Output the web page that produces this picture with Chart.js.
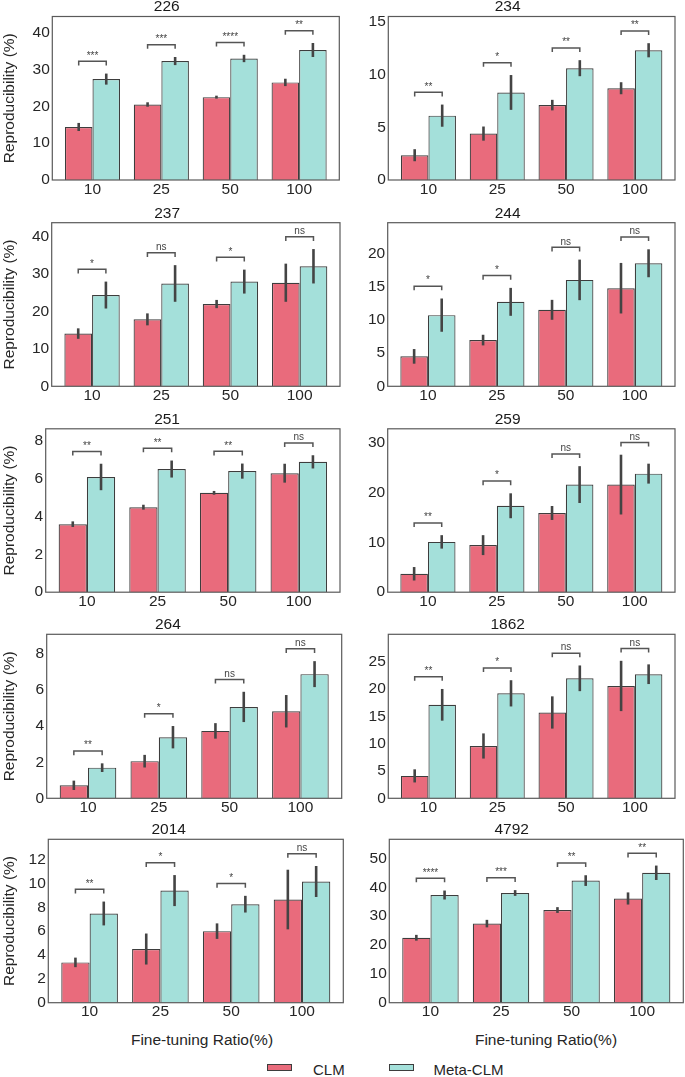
<!DOCTYPE html>
<html><head><meta charset="utf-8">
<script src="https://cdn.jsdelivr.net/npm/chart.js@4/dist/chart.umd.min.js"></script>
<style>
html,body{margin:0;padding:0;background:#fff;}
#wrap{position:relative;width:685px;height:1077px;overflow:hidden;font-family:"Liberation Sans",Arial,sans-serif;color:#262626;background:#fff}
canvas{position:absolute}
.xl{position:absolute;font-size:15.5px;white-space:nowrap;transform:translate(-50%,-50%);line-height:1}
.sw{position:absolute;width:25px;height:7px;box-sizing:border-box;border:1.2px solid #3d3d3d}
.lt{position:absolute;font-size:15px;line-height:1;transform:translateY(-50%);white-space:nowrap}
</style></head>
<body><div id="wrap"></div>
<script>
// ---------- data ----------
const panelTitles = ['226','234','237','244','251','259','264','1862','2014','4792'];
const categories = ['10','25','50','100'];
const seriesNames = ['CLM','Meta-CLM'];
const xAxisLabel = 'Fine-tuning Ratio(%)';
const yAxisLabel = 'Reproducibility (%)';

const clmValues = [
  [14.4,20.5,22.5,26.5],
  [2.35,4.4,7.1,8.7],
  [14.1,17.9,22.0,27.7],
  [4.5,6.95,11.5,14.75],
  [3.6,4.5,5.26,6.3],
  [3.7,9.45,15.9,21.6],
  [0.72,2.06,3.74,4.83],
  [4.1,9.57,15.7,20.55],
  [3.38,4.5,6.0,8.65],
  [22.5,27.4,32.1,36.1]
];
const clmErrors = [
  [1.1,0.6,0.4,1.0],
  [0.57,0.67,0.5,0.57],
  [1.4,1.6,1.1,5.1],
  [1.1,0.8,1.5,3.8],
  [0.15,0.13,0.1,0.5],
  [1.35,2.0,1.4,6.0],
  [0.26,0.35,0.43,0.9],
  [1.2,2.3,2.95,4.6],
  [0.4,1.3,0.65,2.5],
  [1.0,1.3,1.0,2.1]
];
const metaValues = [
  [27.4,32.3,33.0,35.3],
  [6.1,8.3,10.6,12.3],
  [24.4,27.5,28.0,32.1],
  [10.7,12.7,16.0,18.5],
  [6.1,6.52,6.41,6.9],
  [10.1,17.35,21.6,23.8],
  [1.7,3.39,5.07,6.89],
  [17.1,19.2,21.95,22.7],
  [7.48,9.4,8.26,10.16],
  [37.3,38.0,42.3,45.0]
];
const metaErrors = [
  [1.5,1.1,1.0,1.9],
  [1.05,1.65,0.76,0.67],
  [3.6,4.9,3.2,4.6],
  [2.5,2.1,3.05,2.1],
  [0.7,0.45,0.4,0.35],
  [1.35,2.5,3.7,2.0],
  [0.24,0.62,0.84,0.72],
  [2.9,2.4,2.35,1.8],
  [1.0,1.3,0.7,1.3],
  [1.55,1.0,1.85,2.5]
];
const sigLabels = [
  ['***','***','****','**'],
  ['**','*','**','**'],
  ['*','ns','*','ns'],
  ['*','*','ns','ns'],
  ['**','**','**','ns'],
  ['**','*','ns','ns'],
  ['**','*','ns','ns'],
  ['**','*','ns','ns'],
  ['**','*','*','ns'],
  ['****','***','**','**']
];
const yMaxes = [44.4,15.5,43.75,24.6,8.65,32.8,9.1,30.0,13.7,56.6];
const yTicks = [
  [0,10,20,30,40],
  [0,5,10,15],
  [0,10,20,30,40],
  [0,5,10,15,20],
  [0,2,4,6,8],
  [0,10,20,30],
  [0,2,4,6,8],
  [0,5,10,15,20,25],
  [0,2,4,6,8,10,12],
  [0,10,20,30,40,50]
];

// ---------- layout / style ----------
const frames = [ // axes frame [left, top, right, bottom] in page px
  [52.3,16.5,339.3,180],[388.3,16.5,675,180],
  [51.7,222.7,340,386.3],[387.7,222.7,675,386.3],
  [45.7,428.8,340,592.2],[387.7,428.8,675,592.2],
  [46.7,634.3,341.7,798.3],[388.3,634.3,675,798.3],
  [48.3,839.3,343.3,1002.7],[389.3,839.3,683.3,1002.7]
];
const FONT = '"Liberation Sans", Arial, sans-serif';
const CLM_COLOR = 'rgb(233,107,124)';
const META_COLOR = 'rgb(164,224,218)';
const EDGE = '#3d3d3d';
Chart.defaults.font.family = FONT;
Chart.defaults.color = '#262626';

const wrap = document.getElementById('wrap');

const decoPlugin = {
  id: 'deco',
  afterDatasetsDraw(chart, args, opts) {
    const {ctx, chartArea} = chart;
    const p = opts.panel, m = opts.margin;
    const ys = chart.scales.y;
    const yMax = yMaxes[p];
    ctx.save();
    // error bars
    const errs = [clmErrors[p], metaErrors[p]];
    chart.data.datasets.forEach((ds, di) => {
      const meta = chart.getDatasetMeta(di);
      meta.data.forEach((bar, i) => {
        const v = ds.data[i], e = errs[di][i];
        ctx.beginPath();
        ctx.strokeStyle = '#444';
        ctx.lineWidth = 2.6;
        ctx.moveTo(bar.x, ys.getPixelForValue(v - e));
        ctx.lineTo(bar.x, ys.getPixelForValue(v + e));
        ctx.stroke();
      });
    });
    // significance brackets
    const m0 = chart.getDatasetMeta(0), m1 = chart.getDatasetMeta(1);
    categories.forEach((c, i) => {
      const top = Math.max(clmValues[p][i] + clmErrors[p][i], metaValues[p][i] + metaErrors[p][i]);
      const h = top + 0.075 * yMax;
      const hy = ys.getPixelForValue(h);
      const ty = ys.getPixelForValue(h - 0.025 * yMax);
      const x0 = m0.data[i].x, x1 = m1.data[i].x;
      ctx.beginPath();
      ctx.strokeStyle = '#555';
      ctx.lineWidth = 1.5;
      ctx.moveTo(x0, ty); ctx.lineTo(x0, hy); ctx.lineTo(x1, hy); ctx.lineTo(x1, ty);
      ctx.stroke();
      ctx.fillStyle = '#444';
      ctx.font = '10px ' + FONT;
      ctx.textAlign = 'center';
      ctx.textBaseline = 'bottom';
      ctx.fillText(sigLabels[p][i], (x0 + x1) / 2, hy - 0.5);
    });
    // frame
    ctx.strokeStyle = '#5a5a5a';
    ctx.lineWidth = 1.2;
    ctx.strokeRect(chartArea.left - m, chartArea.top, chartArea.right - chartArea.left + 2 * m, chartArea.bottom - chartArea.top);
    ctx.restore();
  }
};

frames.forEach((f, p) => {
  const [l, t, r, b] = f;
  const col = p % 2;
  const m = 0.02 * (r - l);
  const cx0 = col === 0 ? 0 : 346;
  const cy0 = Math.floor(t) - 24;
  const cx1 = Math.ceil(r) + 2;
  const cy1 = Math.ceil(b) + 26;
  const W = cx1 - cx0, H = cy1 - cy0;
  const offTop = t - cy0;
  const cv = document.createElement('canvas');
  cv.width = W; cv.height = H;
  cv.style.left = cx0 + 'px'; cv.style.top = cy0 + 'px';
  cv.style.width = W + 'px'; cv.style.height = H + 'px';
  wrap.appendChild(cv);
  const titleLH = 15.5;
  const titlePT = offTop - 9.3 - titleLH / 2;
  const titlePB = offTop - titlePT - titleLH;
  new Chart(cv, {
    type: 'bar',
    data: {
      labels: categories,
      datasets: [
        {label: seriesNames[0], data: clmValues[p], backgroundColor: CLM_COLOR, borderColor: EDGE, borderWidth: 1.2,
         categoryPercentage: 0.8, barPercentage: 1.0},
        {label: seriesNames[1], data: metaValues[p], backgroundColor: META_COLOR, borderColor: EDGE, borderWidth: 1.2,
         categoryPercentage: 0.8, barPercentage: 1.0}
      ]
    },
    options: {
      responsive: false, animation: false, events: [],
      layout: {padding: {left: 0, top: 0, bottom: 0, right: cx1 - (r - m)}},
      plugins: {
        legend: {display: false}, tooltip: {enabled: false},
        title: {display: true, text: panelTitles[p], color: '#1a1a1a',
                font: {size: 15.5, family: FONT, weight: 'normal', lineHeight: 1},
                padding: {top: titlePT, bottom: titlePB}},
        deco: {panel: p, margin: m}
      },
      scales: {
        x: {
          grid: {display: false, drawTicks: false}, border: {display: false},
          ticks: {font: {size: 15.5, family: FONT}, color: '#262626', padding: 0, maxRotation: 0, autoSkip: false},
          afterFit: (s) => { s.height = cy1 - b; }
        },
        y: {
          min: 0, max: yMaxes[p],
          grid: {display: false, drawTicks: false}, border: {display: false},
          afterBuildTicks: (s) => { s.ticks = yTicks[p].map(v => ({value: v})); },
          ticks: {font: {size: 15.5, family: FONT}, color: '#262626', padding: m + 2.5},
          title: {display: col === 0, text: yAxisLabel, color: '#262626',
                  font: {size: 15.5, family: FONT}, padding: {top: 0, bottom: 0}},
          afterFit: (s) => { s.width = (l + m) - cx0; }
        }
      }
    },
    plugins: [decoPlugin]
  });
});

// x-axis labels for bottom row
[[202, 1040], [546, 1040]].forEach(([x, y]) => {
  const d = document.createElement('div');
  d.className = 'xl'; d.textContent = xAxisLabel;
  d.style.left = x + 'px'; d.style.top = y + 'px';
  wrap.appendChild(d);
});
// legend
[[267, 313, CLM_COLOR, seriesNames[0]], [388.5, 433.5, META_COLOR, seriesNames[1]]].forEach(([sx, tx, c, name]) => {
  const s = document.createElement('div');
  s.className = 'sw'; s.style.left = sx + 'px'; s.style.top = '1064px'; s.style.background = c;
  wrap.appendChild(s);
  const t = document.createElement('div');
  t.className = 'lt'; t.textContent = name; t.style.left = tx + 'px'; t.style.top = '1069px';
  wrap.appendChild(t);
});
</script>
</body></html>
